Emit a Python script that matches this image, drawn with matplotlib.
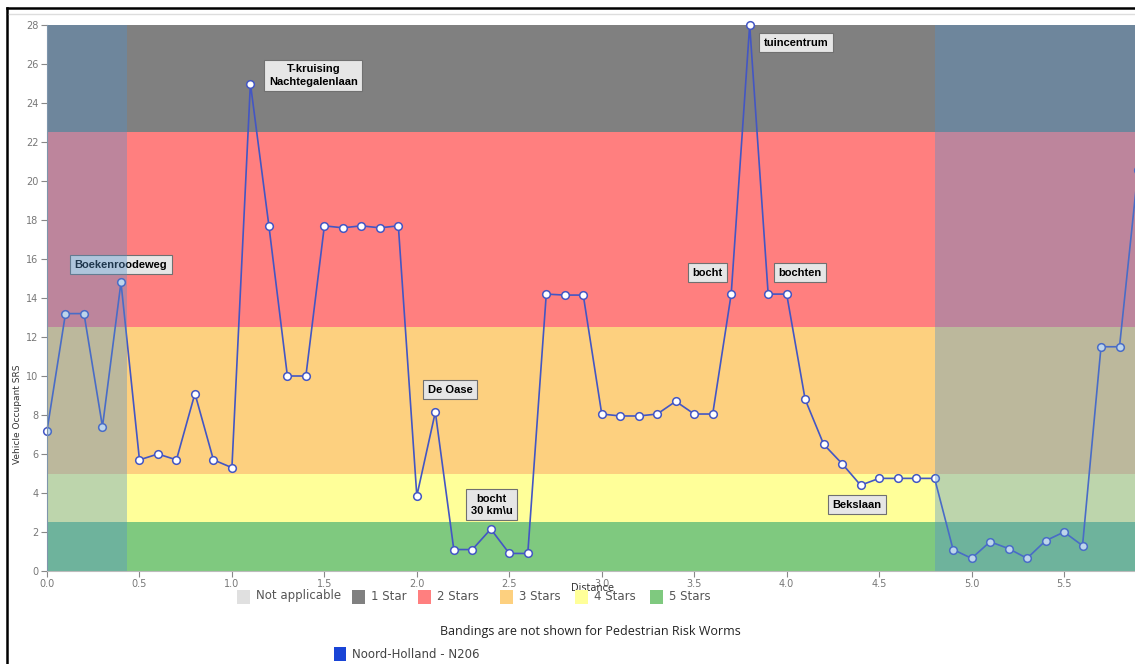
import matplotlib.pyplot as plt
from matplotlib.patches import Rectangle
from matplotlib.lines import Line2D

# Road survey values, one every 0.1 km
distance = [round(i * 0.1, 1) for i in range(60)]
srs = [7.2, 13.2, 13.2, 7.4, 14.8, 5.7, 6.0, 5.7, 9.1, 5.7,
       5.3, 25.0, 17.7, 10.0, 10.0, 17.7, 17.6, 17.7, 17.6, 17.7,
       3.85, 8.15, 1.1, 1.1, 2.15, 0.9, 0.9, 14.2, 14.15, 14.15,
       8.05, 7.95, 7.95, 8.05, 8.7, 8.05, 8.05, 14.2, 28.0, 14.2,
       14.2, 8.8, 6.5, 5.5, 4.4, 4.75, 4.75, 4.75, 4.75, 1.1,
       0.65, 1.5, 1.15, 0.65, 1.55, 2.0, 1.3, 11.5, 11.5, 20.55]

# Star rating bands
band_names = ['1 Star', '2 Stars', '3 Stars', '4 Stars', '5 Stars']
band_low = [22.5, 12.5, 5.0, 2.5, 0.0]
band_high = [28.0, 22.5, 12.5, 5.0, 2.5]
band_colors = ['#808080', '#ff7f7f', '#fdd07f', '#ffff99', '#7fc97f']
na_color = '#e0e0e0'
na_spans = [(0.0, 0.43), (4.8, 6.0)]

# Labels on the worm
notes = ['Boekenroodeweg', 'T-kruising\nNachtegalenlaan', 'De Oase', 'bocht\n30 km\\u',
         'tuincentrum', 'bocht', 'bochten', 'Bekslaan']
note_x = [0.40, 1.44, 2.18, 2.405, 4.05, 3.57, 4.07, 4.38]
note_y = [15.7, 25.4, 9.3, 3.4, 27.1, 15.3, 15.3, 3.4]

fig = plt.figure(figsize=(11.35, 6.64), dpi=100)
ax = fig.add_axes([47 / 1135, 93 / 664, 1091 / 1135, 546 / 664])

for lo, hi, c in zip(band_low, band_high, band_colors):
    ax.axhspan(lo, hi, color=c, lw=0, zorder=0)

ax.plot(distance, srs, color='#4356c4', lw=1.2, marker='o', ms=5.5,
        mfc='white', mec='#4356c4', mew=1.1, zorder=2, clip_on=False)

for txt, x, y in zip(notes, note_x, note_y):
    ax.text(x, y, txt, ha='center', va='center', ma='center', fontsize=8,
            fontweight='bold', family='Liberation Sans', color='black', zorder=3,
            linespacing=1.3,
            bbox=dict(boxstyle='square,pad=0.4', fc='#e6e6e6', ec='#707070', lw=0.8))

# not applicable sections are greyed out on top
for a, b in na_spans:
    ax.axvspan(a, b, color='#5391cc', alpha=0.38, lw=0, zorder=5)

ax.set_xlim(0, 5.9)
ax.set_ylim(0, 28)
ax.set_yticks(range(0, 29, 2))
ax.set_xticks([0, 0.5, 1.0, 1.5, 2.0, 2.5, 3.0, 3.5, 4.0, 4.5, 5.0, 5.5])
ax.set_xticklabels(['0.0', '0.5', '1.0', '1.5', '2.0', '2.5', '3.0', '3.5', '4.0', '4.5', '5.0', '5.5'])
ax.tick_params(labelsize=7, colors='#888888', labelcolor='#777777', length=4, pad=2)
for s in ['top', 'right']:
    ax.spines[s].set_visible(False)
ax.spines['left'].set_color('#999999')
ax.spines['bottom'].set_color('#bbbbbb')

ax.set_ylabel('Vehicle Occupant SRS', fontsize=6.5, color='#333333')
ax.yaxis.set_label_coords(-0.023, 0.288)
ax.set_xlabel('Distance', fontsize=7, color='#333333')
ax.xaxis.set_label_coords(0.5, -0.022)

# legend row
leg_names = ['Not applicable'] + band_names
leg_colors = [na_color] + band_colors
leg_x = [237, 352, 418, 500, 575, 650]
for name, c, x in zip(leg_names, leg_colors, leg_x):
    fig.add_artist(Rectangle((x / 1135, 60 / 664), 13 / 1135, 14 / 664,
                             transform=fig.transFigure, color=c, lw=0))
    fig.text((x + 19) / 1135, 68 / 664, name, fontsize=8.5, color='#555555', va='center')

fig.text(590 / 1135, 33 / 664, 'Bandings are not shown for Pedestrian Risk Worms',
         fontsize=9, color='#222222', ha='center', va='center', family='Open Sans')

fig.add_artist(Rectangle((334 / 1135, 3 / 664), 12 / 1135, 14 / 664,
                         transform=fig.transFigure, color='#1944d6', lw=0))
fig.text(352 / 1135, 10 / 664, 'Noord-Holland - N206', fontsize=8.5, color='#444444', va='center')

# screenshot frame
fig.add_artist(Line2D([7 / 1135, 1], [656 / 664, 656 / 664], color='black', lw=1.8, transform=fig.transFigure))
fig.add_artist(Line2D([7 / 1135, 7 / 1135], [0, 656 / 664], color='black', lw=1.8, transform=fig.transFigure))
fig.add_artist(Line2D([9 / 1135, 1], [650 / 664, 650 / 664], color='#dddddd', lw=1, transform=fig.transFigure))

fig.savefig('out.png', dpi=100)
